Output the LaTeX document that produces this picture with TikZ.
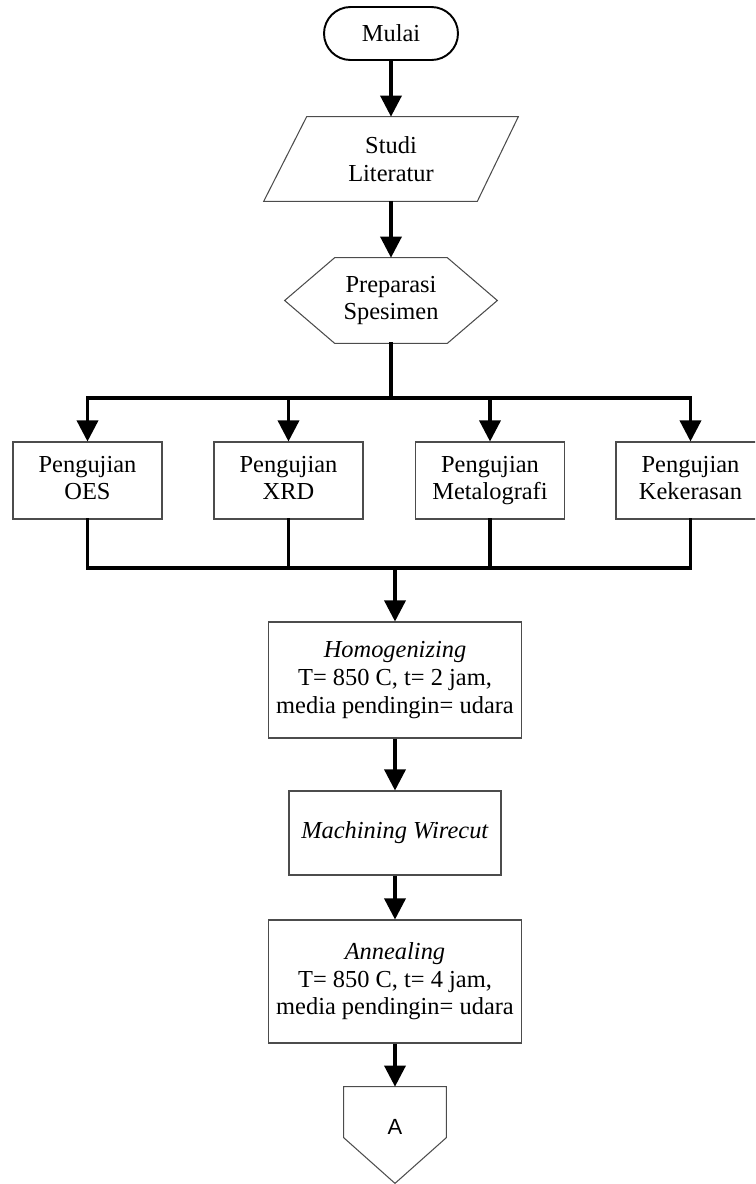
\documentclass[tikz,border=0pt]{standalone}
\usepackage{fontspec}
\setmainfont{Liberation Serif}
\newfontfamily\hurufsans{Liberation Sans}
\usetikzlibrary{arrows.meta,calc}

\begin{document}
\begin{tikzpicture}[x=0.02cm,y=-0.02cm,
    font=\fontsize{13.9}{15.7}\selectfont,
    kotak/.style={draw=black!70,line width=0.6pt,align=center,inner sep=2pt},
    teks/.style={align=center,inner sep=0pt},
    bentuk/.style={draw=black!70,line width=0.6pt},
    garis/.style={line width=1.9pt,line cap=rect},
    panah/.style={line width=1.9pt,-{Triangle[length=12pt,width=12pt]}}]
  \path[use as bounding box,clip] (0,0) rectangle (755,1184);
  % Mulai
  \node[draw,line width=1.1pt,rounded corners=0.53cm,minimum width=2.68cm,minimum height=1.06cm] (mulai) at (391,33.5) {Mulai};
  % Studi literatur (jajar genjang)
  \node[teks,minimum width=5.08cm,minimum height=1.68cm] (studi) at (391,159) {Studi\\Literatur};
  \draw[bentuk] ($(studi.north west)+(43,0)$) -- (studi.north east) -- ($(studi.south east)+(-41,0)$) -- (studi.south west) -- cycle;
  % Preparasi spesimen (segi enam)
  \node[teks,minimum width=4.24cm,minimum height=1.7cm] (prep) at (391,300.5) {Preparasi\\Spesimen};
  \draw[bentuk] (prep.west) -- ($(prep.north west)+(50,0)$) -- ($(prep.north east)+(-50,0)$) -- (prep.east)
    -- ($(prep.south east)+(-50,0)$) -- ($(prep.south west)+(50,0)$) -- cycle;
  \coordinate (cabang) at (391,398);
  \coordinate (gabung) at (395,568);
  % Pengujian
  \foreach \nama/\x/\isi in {oes/87.5/OES, xrd/288.5/XRD, meta/490/Metalografi, keras/690.5/Kekerasan}
    \node[kotak,minimum width=2.98cm,minimum height=1.54cm] (\nama) at (\x,480.5) {Pengujian\\\isi\vphantom{g}};
  % Proses
  \node[kotak,minimum width=5.06cm,minimum height=2.32cm] (homog) at (395,680) {\textit{Homogenizing}\\T= 850 C, t= 2 jam,\\media pendingin= udara};
  \node[kotak,minimum width=4.24cm,minimum height=1.68cm] (wire) at (395,833) {\textit{Machining Wirecut}};
  \node[kotak,minimum width=5.06cm,minimum height=2.46cm] (anneal) at (395,981.5) {\textit{Annealing}\\T= 850 C, t= 4 jam,\\media pendingin= udara};
  % Konektor A
  \node[teks,font=\hurufsans\fontsize{12.5}{14}\selectfont,minimum width=2.04cm,minimum height=1.6cm] (konA) at (395,1127) {A};
  \draw[bentuk] (konA.north west) -- (konA.north east) -- ($(konA.north east)+(0,51)$) -- ($(konA.south)+(0,16)$)
    -- ($(konA.north west)+(0,51)$) -- cycle;
  % Panah
  \draw[panah] (mulai.south) -- (studi.north);
  \draw[panah] (studi.south) -- (prep.north);
  \draw[garis] (prep.south) -- (cabang);
  \draw[garis] (oes.north |- cabang) -- (keras.north |- cabang);
  \foreach \nama in {oes,xrd,meta,keras}{
    \draw[panah] (\nama.north |- cabang) -- (\nama.north);
    \draw[garis] (\nama.south) -- (\nama.south |- gabung);
  }
  \draw[garis] (oes.south |- gabung) -- (keras.south |- gabung);
  \draw[panah] (gabung) -- (homog.north);
  \draw[panah] (homog.south) -- (wire.north);
  \draw[panah] (wire.south) -- (anneal.north);
  \draw[panah] (anneal.south) -- (konA.north);
\end{tikzpicture}
\end{document}
